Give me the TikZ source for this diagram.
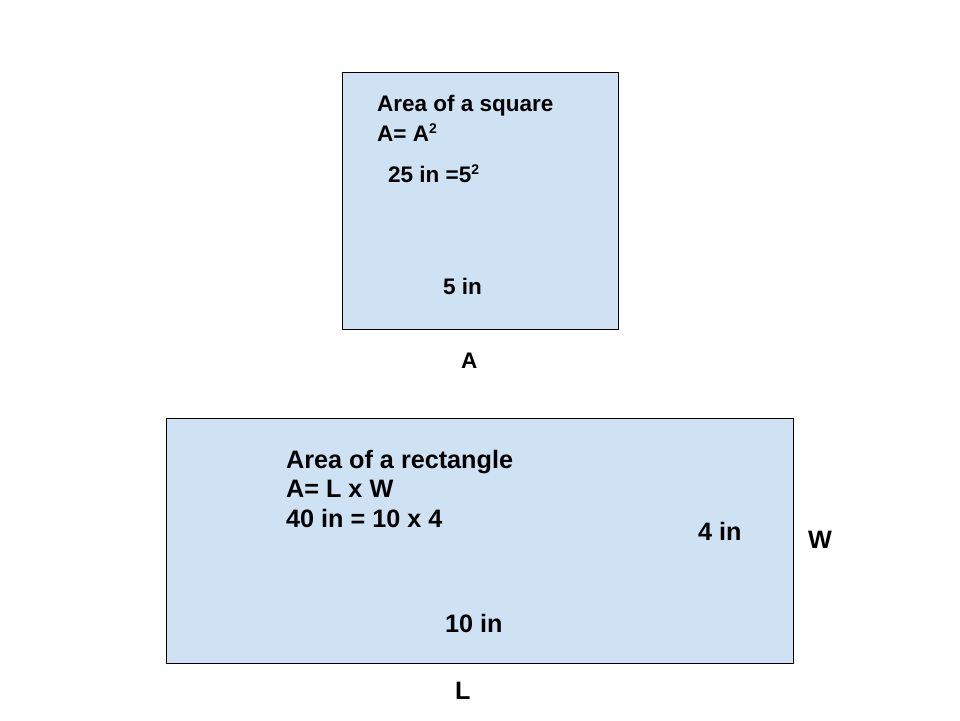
\documentclass[tikz,border=0pt]{standalone}
\usepackage{fontspec}
\setmainfont{Liberation Sans}
\usepackage{tikz}
\usetikzlibrary{positioning}
\definecolor{paleblue}{HTML}{CFE2F3}
\newcommand{\powtwo}{\raisebox{8pt}{\fontsize{14}{14}\selectfont 2}}

\tikzset{
    shape box/.style={draw=black, line width=0.8pt, fill=paleblue},
    small txt/.style={anchor=base west, inner sep=0pt, font=\fontsize{22.5}{26}\selectfont\bfseries},
    big txt/.style={anchor=base west, inner sep=0pt, font=\fontsize{25.2}{29}\selectfont\bfseries}
}

\begin{document}
\begin{tikzpicture}[x=1pt, y=-1pt]
    \useasboundingbox (0, 0) rectangle (960, 720);

    % Square
    \draw[shape box] (342, 72) rectangle (618, 329);
    \node[small txt] (sqtitle) at (377, 111) {Area of a square};
    \node[small txt] (sqformula) at (377, 141) {A= A\powtwo};
    \node[small txt] (sqvalue) at (388, 182) {25 in =5\powtwo};
    \node[small txt] (sqside) at (443, 294) {5 in};
    \node[small txt] (sqlabel) at (461, 368) {A};

    % Rectangle
    \draw[shape box] (166, 418) rectangle (793, 663);
    \node[big txt] (rectitle) at (286, 468) {Area of a rectangle};
    \node[big txt] (recformula) at (286, 497) {A= L x W};
    \node[big txt] (recvalue) at (286, 527) {40 in = 10 x 4};
    \node[big txt] (recwidth) at (698, 540) {4 in};
    \node[big txt] (reclength) at (445, 632) {10 in};
    \node[big txt] (wlabel) at (808, 548) {W};
    \node[big txt] (llabel) at (455, 699) {L};
\end{tikzpicture}
\end{document}
